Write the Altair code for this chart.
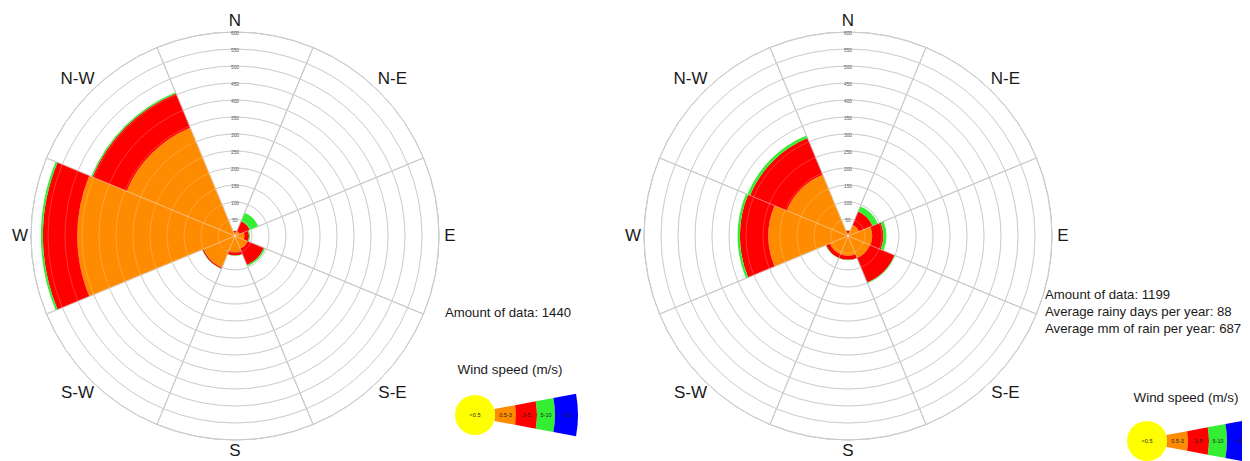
import math
import altair as alt
import pandas as pd

# ---------------- data ----------------
directions = ["N", "N-E", "E", "S-E", "S", "S-W", "W", "N-W"]
speed_classes = ["<0.5", "0.5-3", "3-5", "5-10", ">10"]
class_colors = ["#FFFF00", "#FF8C00", "#FF0000", "#33EE33", "#0000FF"]
ring_values = [50, 100, 150, 200, 250, 300, 350, 400, 450, 500, 550, 600]

# counts per direction for the classes 0.5-3, 3-5, 5-10 (stacked outward)
left_05_3 = [10, 15, 28, 40, 48, 100, 464, 345]
left_3_5 = [5, 32, 13, 52, 9, 4, 101, 109]
left_5_10 = [1, 27, 3, 4, 1, 1, 6, 4]

right_05_3 = [8, 35, 71, 70, 58, 58, 234, 195]
right_3_5 = [8, 43, 33, 78, 12, 12, 84, 117]
right_5_10 = [1, 17, 9, 2, 1, 1, 7, 8]

left_info = ["Amount of data: 1440"]
right_info = ["Amount of data: 1199",
              "Average rainy days per year: 88",
              "Average mm of rain per year: 687"]
legend_title = "Wind speed (m/s)"

# ---------------- helpers ----------------
FONT = "Liberation Sans"
TAU = 2 * math.pi
RSCALE = alt.Scale(type="linear", domain=[0, 600], range=[0, 204], zero=True)


def wedge_frame(series):
    rows = []
    for k, d in enumerate(directions):
        start = math.radians((45 * k - 22.5) % 360)
        end = start + math.radians(45)
        base = 0
        for cls, vals in zip(speed_classes[1:4], series):
            v = vals[k]
            rows.append(dict(dir=d, cls=cls, t0=start, t1=end,
                             r_in=base, r_out=base + v))
            base += v
    return pd.DataFrame(rows)


def grid_layers(X, Y, stroke, opacity, width):
    rings = pd.DataFrame({"ring": ring_values, "t0": 0.0, "t1": TAU})
    spokes = pd.DataFrame({
        "t0": [math.radians(22.5 + 45 * k) for k in range(8)],
        "t1": [math.radians(67.5 + 45 * k) for k in range(8)],
        "ring": [ring_values[-1]] * 8,
    })
    out = []
    for df in (rings, spokes):
        out.append(
            alt.Chart(df).mark_arc(fillOpacity=0, stroke=stroke,
                                   strokeOpacity=opacity, strokeWidth=width)
            .encode(
                x=X, y=Y,
                theta=alt.Theta("t0:Q", scale=None, stack=False),
                theta2=alt.Theta2("t1:Q"),
                radius=alt.Radius("ring:Q", scale=RSCALE, stack=False),
            )
        )
    return out


def rose(cx, cy, series):
    X, Y = alt.value(cx), alt.value(cy)
    layers = grid_layers(X, Y, "#a5a5a5", 1.0, 0.7)
    layers.append(
        alt.Chart(wedge_frame(series)).mark_arc().encode(
            x=X, y=Y,
            theta=alt.Theta("t0:Q", scale=None, stack=False),
            theta2=alt.Theta2("t1:Q"),
            radius=alt.Radius("r_out:Q", scale=RSCALE, stack=False),
            radius2=alt.Radius2("r_in:Q"),
            color=alt.Color("cls:N", scale=alt.Scale(domain=speed_classes,
                                                     range=class_colors),
                            legend=None),
        )
    )
    layers += grid_layers(X, Y, "#ffffff", 0.3, 0.7)
    ring_lab = pd.DataFrame({"ring": ring_values, "t": 0.0})
    layers.append(
        alt.Chart(ring_lab).transform_calculate(rl="datum.ring - 7")
        .mark_text(font=FONT, fontSize=4.8, color="#555555")
        .encode(
            x=X, y=Y,
            theta=alt.Theta("t:Q", scale=None, stack=False),
            radius=alt.Radius("rl:Q", scale=RSCALE, stack=False),
            text=alt.Text("ring:Q"),
        )
    )
    dir_lab = pd.DataFrame({
        "label": directions,
        "t": [math.radians(45 * k) for k in range(8)],
        "r": [632 if k % 2 == 0 else 655 for k in range(8)],
    })
    layers.append(
        alt.Chart(dir_lab).mark_text(font=FONT, fontSize=17, color="#1a1a1a")
        .encode(
            x=X, y=Y,
            theta=alt.Theta("t:Q", scale=None, stack=False),
            radius=alt.Radius("r:Q", scale=RSCALE, stack=False),
            text="label:N",
        )
    )
    return layers


def legend(cx, cy, tx, ty):
    base = alt.Chart(pd.DataFrame({"k": [0]}))
    layers = [
        base.mark_text(font=FONT, fontSize=13.4, color="#1a1a1a", text=legend_title)
        .encode(x=alt.value(tx), y=alt.value(ty)),
        base.mark_arc(theta=0, theta2=TAU, radius=20, color=class_colors[0])
        .encode(x=alt.value(cx), y=alt.value(cy)),
    ]
    apex = cx - 13
    edges = [33, 54, 75, 93, 116]
    half = math.radians(10.5)
    for i in range(4):
        layers.append(
            base.mark_arc(theta=math.pi / 2 - half, theta2=math.pi / 2 + half,
                          radius=edges[i + 1], radius2=edges[i],
                          color=class_colors[i + 1])
            .encode(x=alt.value(apex), y=alt.value(cy))
        )
    pos = [cx] + [apex + (edges[i] + edges[i + 1]) / 2 for i in range(4)]
    for lab, p in zip(speed_classes, pos):
        layers.append(
            base.mark_text(font=FONT, fontSize=5.5, color="#222222", text=lab)
            .encode(x=alt.value(p), y=alt.value(cy))
        )
    return layers


def info(lines, x, y0):
    df = pd.DataFrame({"line": lines, "i": list(range(len(lines)))})
    return (
        alt.Chart(df).transform_calculate(py=f"{y0} + 17 * datum.i")
        .mark_text(font=FONT, fontSize=13.2, align="left", color="#1a1a1a")
        .encode(x=alt.value(x), y=alt.Y("py:Q", scale=None), text="line:N")
    )


layers = []
layers += rose(227, 228, [left_05_3, left_3_5, left_5_10])
layers += rose(840, 228, [right_05_3, right_3_5, right_5_10])
layers += legend(467, 407, 502, 362)
layers += legend(1139, 433, 1178, 390)
layers.append(info(left_info, 437, 305))
layers.append(info(right_info, 1037, 287))

chart = (
    alt.layer(*layers)
    .properties(width=1234, height=453, padding=0,
                autosize=alt.AutoSizeParams(type="none"),
                background="white")
    .configure_view(stroke=None)
)

chart.save("out.html", embed_options={"renderer": "svg", "actions": False})
